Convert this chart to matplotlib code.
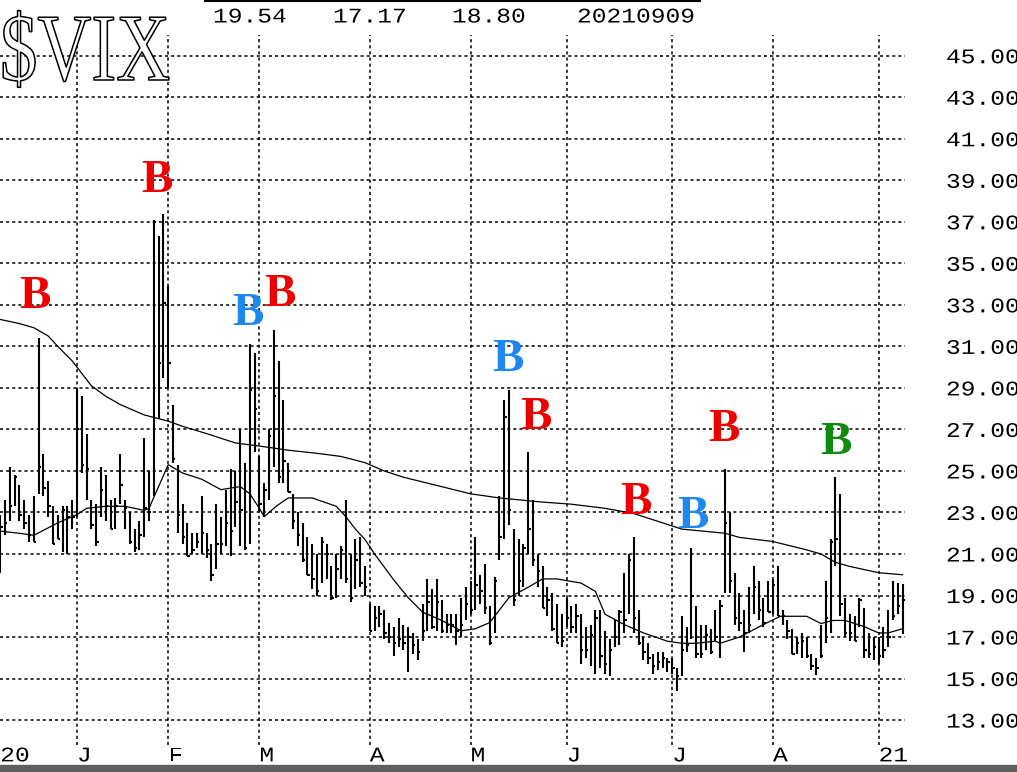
import numpy as np
import pandas as pd
import matplotlib
matplotlib.use('Agg')
import matplotlib.pyplot as plt
import matplotlib.patheffects as pe
from matplotlib.transforms import Affine2D
from matplotlib.lines import Line2D
from matplotlib.patches import Rectangle

# trading days shown on the chart
holidays = ['2020-12-25', '2021-01-01', '2021-01-18', '2021-02-15', '2021-04-02',
            '2021-05-31', '2021-07-05', '2021-09-06']
dates = pd.bdate_range('2020-12-09', '2021-09-09', freq='C', holidays=holidays)

# daily high / low / close
high = [22.9, 23.6, 25.2, 24.8, 24.3, 23.6, 22.9, 23.8, 31.4, 25.8, 24.5, 23.3, 22.9, 23.3, 23.3, 23.6,  # dec
        29.0, 28.6, 26.8, 23.6, 23.4, 25.2, 24.8, 23.6, 23.7, 25.8, 23.6, 23.0, 22.2, 22.6, 26.6, 25.0,
        37.1, 36.3, 37.4,  # jan
        33.9, 28.2, 25.3, 23.4, 22.5, 22.0, 22.0, 23.8, 22.0, 21.5, 23.4, 22.8, 24.1, 25.1, 25.0, 27.0,
        25.4, 31.1, 30.7,  # feb
        25.7, 24.4, 27.0, 31.8, 30.3, 28.4, 25.4, 23.9, 23.0, 22.5, 21.8, 21.5, 21.0, 21.8, 21.5, 20.4,
        21.0, 21.4, 23.6, 21.0, 21.7, 21.8, 20.4,  # mar
        18.6, 18.5, 18.5, 18.3, 17.7, 17.5, 17.9, 17.6, 17.5, 17.2, 16.9, 18.6, 19.8, 19.3, 19.8, 18.8,
        18.1, 18.1, 18.1, 18.9, 19.4,  # apr
        19.7, 21.8, 20.0, 20.5, 18.5, 19.9, 23.8, 28.4, 28.9, 22.2, 21.7, 21.5, 25.9, 23.6, 21.0, 20.4,
        19.4, 19.1, 18.6, 18.1,  # may
        18.9, 18.5, 18.6, 18.1, 17.5, 17.6, 18.3, 18.3, 17.3, 16.9, 17.8, 18.3, 20.1, 21.0, 21.8, 18.3,
        17.0, 16.7, 16.2, 16.3, 16.3, 16.0,  # jun
        16.0, 15.5, 18.0, 17.5, 21.3, 18.5, 17.6, 17.6, 17.4, 18.3, 18.8, 25.1, 23.0, 20.1, 19.1, 18.3,
        19.4, 20.4, 19.7, 18.9, 19.7,  # jul
        19.8, 20.4, 18.3, 17.8, 17.4, 17.0, 17.2, 17.0, 16.2, 16.0, 17.6, 19.7, 21.7, 24.7, 23.9, 18.9,
        18.1, 18.0, 18.9, 18.4, 17.2, 17.0,  # aug
        17.0, 17.5, 18.3, 19.7, 19.6, 19.54]  # sep
low = [20.1, 21.9, 22.6, 23.3, 22.6, 22.2, 21.6, 21.6, 23.9, 23.8, 22.8, 21.5, 21.7, 21.1, 21.0, 22.2,
       22.8, 24.9, 23.6, 22.2, 21.4, 22.8, 22.6, 22.2, 22.2, 23.4, 22.2, 21.5, 21.1, 21.2, 21.8, 22.6,
       23.8, 27.5, 29.5,
       29.0, 25.4, 22.0, 21.5, 20.9, 21.0, 21.3, 21.0, 20.8, 19.7, 20.3, 21.0, 21.4, 20.9, 22.3, 21.4,
       21.2, 21.5, 25.9,
       23.0, 22.8, 23.6, 25.2, 24.4, 24.4, 24.0, 22.2, 21.4, 20.6, 20.0, 19.3, 19.0, 19.6, 19.8, 18.8,
       18.9, 19.8, 19.6, 18.7, 19.3, 19.4, 19.0,
       17.3, 17.3, 17.5, 16.9, 16.7, 16.1, 16.5, 16.4, 15.3, 16.2, 15.9, 16.8, 17.3, 17.4, 17.3, 17.2,
       17.2, 17.2, 16.6, 17.0, 17.8,
       18.1, 18.3, 18.6, 18.1, 16.6, 17.2, 20.7, 21.7, 22.4, 18.5, 19.0, 19.4, 21.0, 20.4, 19.4, 18.4,
       18.0, 17.3, 16.7, 16.5,
       17.5, 17.2, 17.2, 15.7, 16.0, 15.6, 15.2, 15.5, 15.2, 15.1, 16.5, 16.6, 17.2, 18.1, 17.2, 16.6,
       15.9, 15.7, 15.2, 15.4, 15.5, 15.3,
       15.2, 14.4, 15.1, 16.3, 16.9, 16.0, 16.0, 16.4, 16.2, 16.8, 16.0, 19.1, 19.1, 17.6, 17.3, 16.3,
       17.2, 18.1, 17.8, 17.5, 18.2,
       18.1, 18.0, 17.6, 16.9, 16.2, 16.2, 16.0, 16.0, 15.4, 15.15, 16.0, 16.7, 17.2, 20.4, 18.0, 17.0,
       16.8, 16.8, 17.5, 16.0, 16.0, 15.9,
       15.7, 16.0, 16.5, 17.8, 18.1, 17.17]
close = [22.3, 22.5, 23.3, 24.7, 22.9, 22.5, 21.9, 21.6, 25.2, 24.2, 23.3, 21.5, 21.7, 23.1, 22.8, 22.8,
         27.0, 25.3, 25.1, 22.4, 21.6, 24.1, 23.3, 22.2, 23.3, 24.3, 23.2, 21.6, 21.3, 21.9, 23.2, 23.0,
         37.0, 30.2, 33.1,
         30.2, 25.6, 22.9, 21.8, 20.9, 21.2, 21.6, 22.0, 21.2, 20.0, 21.5, 21.5, 22.5, 22.1, 23.5, 23.1,
         21.3, 28.9, 28.0,
         23.4, 24.1, 26.7, 28.6, 24.7, 25.5, 24.0, 22.6, 21.9, 20.7, 20.0, 19.8, 19.2, 21.6, 21.0, 18.9,
         20.3, 21.2, 19.8, 18.9, 20.7, 19.6, 19.4,
         17.3, 17.9, 18.1, 17.2, 17.0, 16.7, 16.9, 16.7, 17.0, 16.6, 16.3, 17.3, 18.7, 17.5, 18.7, 17.3,
         17.6, 17.6, 17.3, 17.6, 18.6,
         18.3, 19.5, 19.2, 18.4, 16.7, 19.7, 21.8, 27.6, 23.1, 18.8, 19.7, 21.3, 22.2, 20.7, 20.2, 18.4,
         18.8, 17.4, 16.7, 16.8,
         17.9, 17.5, 18.0, 16.4, 16.4, 17.1, 17.9, 16.1, 15.7, 16.4, 17.0, 18.2, 17.8, 20.7, 17.9, 16.7,
         16.3, 16.0, 15.6, 15.8, 16.0, 15.8,
         15.5, 15.1, 16.4, 16.6, 19.0, 16.2, 16.2, 17.1, 16.3, 17.0, 18.5, 22.5, 19.7, 17.9, 17.7, 17.2,
         17.6, 19.4, 18.3, 17.7, 18.2,
         19.5, 18.0, 18.0, 17.3, 16.2, 16.7, 16.8, 16.1, 15.6, 15.5, 16.1, 17.9, 21.6, 21.7, 18.6, 17.2,
         17.2, 16.8, 18.8, 16.4, 16.2, 16.5,
         16.1, 16.4, 17.0, 18.0, 18.5, 18.80]

# the two moving averages, read as points (x = trading day number)
ma_long_x = [0, 4, 7, 10, 12, 15, 17, 19, 22, 25, 30, 35, 38, 43, 49, 54, 60, 66, 71, 76, 80, 84,
             91, 98, 104, 113, 119, 126, 132, 138, 142, 151, 154, 161, 168, 171, 174, 177, 183, 188]
ma_long_y = [32.3, 32.1, 31.9, 31.5, 31.0, 30.3, 29.7, 29.1, 28.6, 28.2, 27.7, 27.4, 27.15, 26.8,
             26.35, 26.2, 26.0, 25.85, 25.7, 25.4, 25.0, 24.7, 24.3, 23.9, 23.7, 23.5, 23.4, 23.2,
             22.95, 22.5, 22.2, 22.0, 21.8, 21.6, 21.2, 21.0, 20.6, 20.4, 20.1, 20.0]
ma_short_x = [0, 4, 7, 12, 16, 18, 22, 26, 30, 31, 35, 38, 42, 46, 50, 52, 54, 55, 57.5, 60, 65,
              70, 72, 74, 76, 78, 82, 85, 88, 92, 96, 99, 102, 106, 110, 113, 116, 121, 124, 126,
              130, 134, 139, 142, 145, 149, 150, 154, 159, 162.5, 168, 171, 173.5, 176, 180, 183,
              185, 188]
ma_short_y = [22.1, 22.0, 21.9, 22.5, 22.9, 23.2, 23.3, 23.3, 23.1, 23.2, 25.3, 24.9, 24.6, 24.1,
              24.25, 23.9, 23.2, 22.8, 23.3, 23.7, 23.7, 23.3, 22.8, 22.2, 21.7, 21.0, 19.75, 18.9,
              18.2, 17.8, 17.3, 17.4, 17.7, 18.9, 19.4, 19.8, 19.8, 19.6, 19.2, 18.1, 17.6, 17.2,
              16.8, 16.7, 16.7, 16.8, 16.7, 17.0, 17.6, 18.0, 18.0, 17.65, 17.8, 17.8, 17.5, 17.2,
              17.2, 17.4]

# "B" signals
b_x = [7.2, 32.7, 51.6, 58.3, 105.8, 111.6, 132.5, 144.3, 150.8, 174.1]
b_y = [33.6, 39.2, 32.8, 33.7, 30.6, 27.8, 23.7, 23.0, 27.2, 26.6]
b_col = ['#ee0000', '#ee0000', '#1e88f0', '#ee0000', '#1e88f0', '#ee0000', '#ee0000', '#1e88f0',
         '#ee0000', '#108a10']

month_labels = ['J', 'F', 'M', 'A', 'M', 'J', 'J', 'A', '21']
header = ['19.54', '17.17', '18.80', '20210909']
yticks = np.arange(13, 46, 2)


class Stretch(pe.AbstractPathEffect):
    # squeeze / widen glyphs horizontally (text stays left anchored)
    def __init__(self, sx, hollow=False):
        super().__init__()
        self.sx = sx
        self.hollow = hollow

    def draw_path(self, renderer, gc, tpath, affine, rgbFace=None):
        affine = Affine2D().scale(self.sx, 1) + affine
        if self.hollow:
            gc0 = renderer.new_gc()
            gc0.copy_properties(gc)
            gc0.set_foreground('black')
            gc0.set_linewidth(1.1)
            renderer.draw_path(gc0, tpath, affine, (1, 1, 1))
            gc0.restore()
        else:
            renderer.draw_path(gc, tpath, affine, rgbFace)


W, H = 1017, 772
fig = plt.figure(figsize=(W / 100, H / 100), dpi=100)
ax = fig.add_axes([0, 1 - 745 / H, 905 / W, 710 / H])

x = np.arange(len(dates))
starts = np.flatnonzero(dates.month[1:] != dates.month[:-1]) + 1

ax.vlines(x, low, high, color='black', lw=1.5)
ax.hlines(close, x, x + 0.5, color='black', lw=1.5)
ax.plot(ma_long_x, ma_long_y, color='black', lw=0.9)
ax.plot(ma_short_x, ma_short_y, color='black', lw=0.9)

for bx, by, bc in zip(b_x, b_y, b_col):
    ax.text(bx, by, 'B', color=bc, fontsize=34, fontweight='bold', family='Liberation Serif',
            ha='center', va='center_baseline')

ax.set_xlim(-0.04, 188.5)
ax.set_ylim(11.8, 46.0)

ax.set_xticks(starts)
ax.set_xticklabels(month_labels)
ax.set_xticks([0], ['20'], minor=True)
ax.set_yticks(yticks)
ax.set_yticklabels([f'{v:.2f}' for v in yticks])
ax.yaxis.tick_right()
ax.grid(True, which='major', color='black', linestyle=(0, (2, 2)), lw=1.1)
ax.tick_params(which='both', length=0, labelsize=15, labelfontfamily='Liberation Mono')
ax.tick_params(axis='y', pad=29.5)
ax.tick_params(axis='x', which='both', pad=1)
for s in ax.spines.values():
    s.set_visible(False)
for lab in ax.get_xticklabels() + ax.get_xticklabels(minor=True):
    lab.set_ha('left')
    lab.set_path_effects([Stretch(1.18)])
for lab in ax.get_yticklabels():
    lab.set_path_effects([Stretch(1.18)])

# header
fig.text(0, 1 - 80 / H, '$VIX', fontsize=69, family='Liberation Serif', va='baseline',
         path_effects=[Stretch(0.78, hollow=True)])
for txt, px in zip(header, [213, 333, 452, 577]):
    fig.text(px / W, 1 - 15 / H, txt, fontsize=15, family='Liberation Mono',
             va='center_baseline', path_effects=[Stretch(1.18)])
fig.add_artist(Line2D([205 / W, 700 / W], [1 - 1 / H, 1 - 1 / H], color='black', lw=1.5))
fig.add_artist(Rectangle((0, 0), 1, 7 / H, transform=fig.transFigure, color='#5f5f5f'))

fig.savefig('out.png', dpi=100)
